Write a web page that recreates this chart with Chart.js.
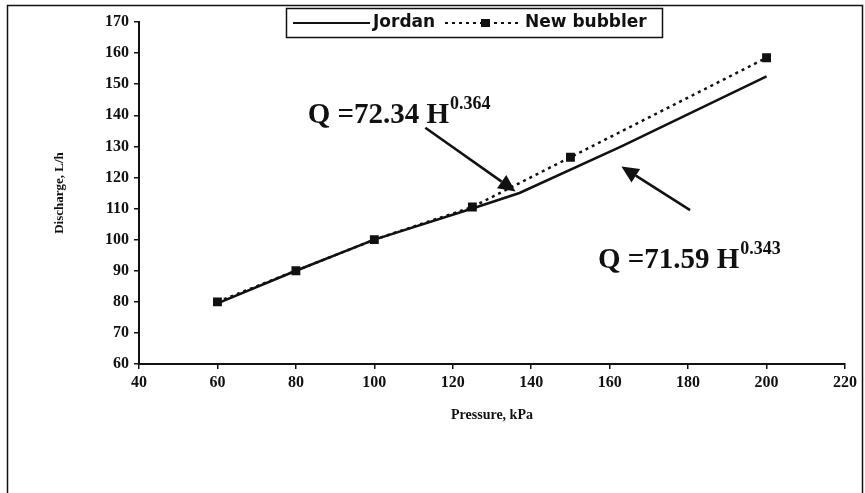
<!DOCTYPE html>
<html>
<head>
<meta charset="utf-8">
<script src="https://cdn.jsdelivr.net/npm/chart.js@4/dist/chart.umd.min.js"></script>
<style>
  html, body { margin: 0; padding: 0; background: #fff; }
  #wrap { width: 865px; height: 493px; }
</style>
</head>
<body>
<div id="wrap"><canvas id="chart" width="865" height="493"></canvas></div>
<script>
// pressure (kPa) / discharge (L/h)
var jordanP = [60, 80, 100, 125, 137, 163, 200];
var jordanQ = [79.5, 90, 100, 110, 115, 130, 152.5];
var bubblerP = [60, 80, 100, 125, 150, 200];
var bubblerQ = [80, 90, 100, 110.5, 126.5, 158.5];

var xTicks = [40, 60, 80, 100, 120, 140, 160, 180, 200, 220];
var yTicks = [60, 70, 80, 90, 100, 110, 120, 130, 140, 150, 160, 170];

// equation labels + arrows, in data units
var equations = [
  { base: 'Q =72.34 H', exp: '0.364', x: 83, y: 137.5, from: [113, 136], to: [136, 115.5] },
  { base: 'Q =71.59 H', exp: '0.343', x: 157, y: 91, from: [180.5, 109.5], to: [163, 123.5] }
];

function toPoints(xs, ys) {
  var pts = [];
  for (var i = 0; i < xs.length; i++) pts.push({ x: xs[i], y: ys[i] });
  return pts;
}

var serif = '"Liberation Serif", "Times New Roman", serif';
var sans = '"DejaVu Sans", Arial, sans-serif';

// frame round the whole picture
var framePlugin = {
  id: 'frame',
  beforeDraw: function (chart) {
    var c = chart.ctx;
    c.save();
    c.fillStyle = '#fff';
    c.fillRect(0, 0, chart.width, chart.height);
    c.strokeStyle = '#111';
    c.lineWidth = 1.5;
    c.strokeRect(7.5, 5.5, 855, 500);
    c.restore();
  }
};

// equations with arrows
var eqPlugin = {
  id: 'equations',
  afterDatasetsDraw: function (chart) {
    var c = chart.ctx, xs = chart.scales.x, ys = chart.scales.y;
    c.save();
    equations.forEach(function (e) {
      var tx = xs.getPixelForValue(e.x), ty = ys.getPixelForValue(e.y);
      c.fillStyle = '#111';
      c.textBaseline = 'alphabetic';
      c.font = 'bold 29px ' + serif;
      c.fillText(e.base, tx, ty);
      var w = c.measureText(e.base).width;
      c.font = 'bold 18px ' + serif;
      c.fillText(e.exp, tx + w + 1, ty - 14);

      var x1 = xs.getPixelForValue(e.from[0]), y1 = ys.getPixelForValue(e.from[1]);
      var x2 = xs.getPixelForValue(e.to[0]), y2 = ys.getPixelForValue(e.to[1]);
      var a = Math.atan2(y2 - y1, x2 - x1);
      var hl = 17, hw = 8;
      var bx = x2 - hl * Math.cos(a), by = y2 - hl * Math.sin(a);
      c.strokeStyle = '#111';
      c.lineWidth = 2.5;
      c.beginPath();
      c.moveTo(x1, y1);
      c.lineTo(bx, by);
      c.stroke();
      c.beginPath();
      c.moveTo(x2, y2);
      c.lineTo(bx + hw * Math.sin(a), by - hw * Math.cos(a));
      c.lineTo(bx - hw * Math.sin(a), by + hw * Math.cos(a));
      c.closePath();
      c.fill();
    });
    c.restore();
  }
};

// boxed legend at top
var legendPlugin = {
  id: 'boxLegend',
  afterDraw: function (chart) {
    var c = chart.ctx;
    c.save();
    c.fillStyle = '#fff';
    c.fillRect(286, 8, 377, 30);
    c.strokeStyle = '#111';
    c.lineWidth = 1.5;
    c.strokeRect(286.5, 8.5, 376, 29);
    var ly = 23;
    c.lineWidth = 2.2;
    c.beginPath();
    c.moveTo(293, ly);
    c.lineTo(370, ly);
    c.stroke();
    c.font = 'bold 17px ' + sans;
    c.fillStyle = '#111';
    c.textBaseline = 'middle';
    c.fillText(chart.data.datasets[0].label, 373, ly);
    c.setLineDash([3, 4]);
    c.beginPath();
    c.moveTo(445, ly);
    c.lineTo(521, ly);
    c.stroke();
    c.setLineDash([]);
    c.fillRect(481, ly - 4, 9, 8);
    c.fillText(chart.data.datasets[1].label, 525, ly);
    c.restore();
  }
};

var tickFont = { family: serif, size: 16, weight: 'bold' };

new Chart(document.getElementById('chart'), {
  type: 'scatter',
  data: {
    datasets: [
      {
        label: 'Jordan',
        data: toPoints(jordanP, jordanQ),
        showLine: true,
        borderColor: '#111',
        borderWidth: 2.5,
        pointRadius: 0,
        tension: 0
      },
      {
        label: 'New bubbler',
        data: toPoints(bubblerP, bubblerQ),
        showLine: true,
        borderColor: '#111',
        borderWidth: 2.5,
        borderDash: [3, 4],
        pointStyle: 'rect',
        pointRadius: 4.5,
        pointBackgroundColor: '#111',
        pointBorderColor: '#111',
        tension: 0
      }
    ]
  },
  options: {
    responsive: false,
    animation: false,
    layout: { padding: { left: 48, right: 20, top: 22, bottom: 65 } },
    plugins: {
      legend: { display: false },
      tooltip: { enabled: false }
    },
    scales: {
      x: {
        type: 'linear',
        min: 40,
        max: 220,
        afterBuildTicks: function (s) { s.ticks = xTicks.map(function (v) { return { value: v }; }); },
        afterFit: function (s) { s.height = 64; },
        border: { display: true, color: '#111', width: 2 },
        grid: { drawOnChartArea: false, drawTicks: true, tickLength: 5, color: '#111', lineWidth: 1.5 },
        ticks: { color: '#111', font: tickFont, padding: 4, maxRotation: 0, autoSkip: false },
        title: { display: true, text: 'Pressure, kPa', color: '#111', font: { family: serif, size: 14, weight: 'bold' } }
      },
      y: {
        type: 'linear',
        min: 60,
        max: 170,
        afterBuildTicks: function (s) { s.ticks = yTicks.map(function (v) { return { value: v }; }); },
        afterFit: function (s) { s.width = 91; },
        border: { display: true, color: '#111', width: 2 },
        grid: { drawOnChartArea: false, drawTicks: true, tickLength: 5, color: '#111', lineWidth: 1.5 },
        ticks: { color: '#111', font: tickFont, padding: 5, autoSkip: false },
        title: { display: true, text: 'Discharge, L/h', color: '#111', font: { family: serif, size: 13, weight: 'bold' } }
      }
    }
  },
  plugins: [framePlugin, eqPlugin, legendPlugin]
});
</script>
</body>
</html>
